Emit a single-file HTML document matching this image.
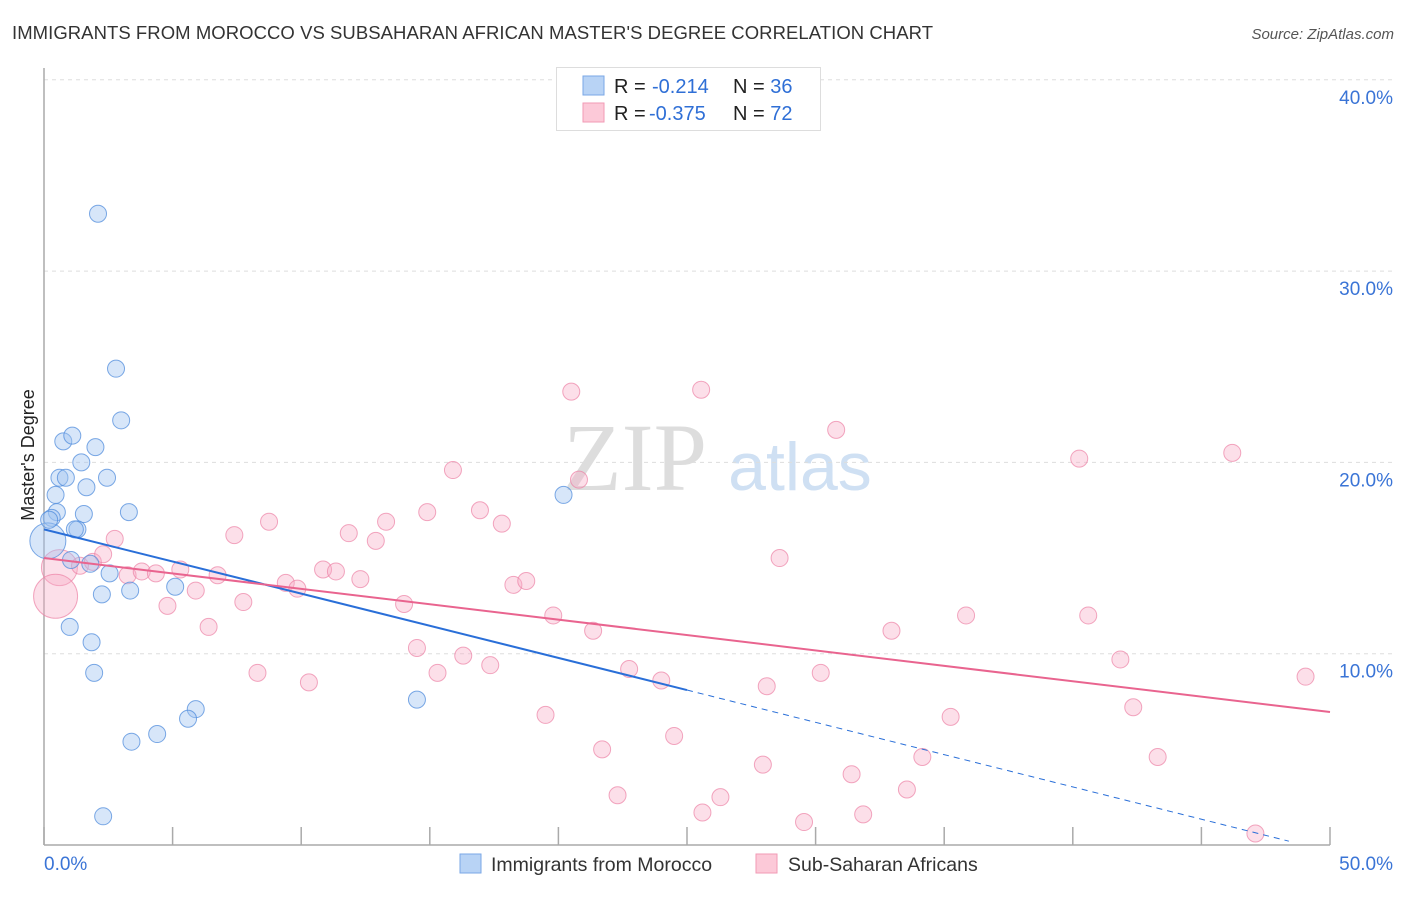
<!DOCTYPE html>
<html><head><meta charset="utf-8"><style>
body{margin:0;background:#fff;width:1406px;height:892px;overflow:hidden;font-family:"Liberation Sans",sans-serif}
svg text{font-family:"Liberation Sans",sans-serif}
</style></head><body>
<svg id="c" width="1406" height="892" xmlns="http://www.w3.org/2000/svg">
<text x="12" y="39" font-size="18.5" fill="#333" textLength="921">IMMIGRANTS FROM MOROCCO VS SUBSAHARAN AFRICAN MASTER'S DEGREE CORRELATION CHART</text>
<text x="1394" y="39" font-size="15" fill="#555" font-style="italic" text-anchor="end">Source: ZipAtlas.com</text>
<text x="635" y="490" font-size="96" fill="#ddd" text-anchor="middle" font-family="Liberation Serif" style="font-family:'Liberation Serif',serif">ZIP</text>
<text x="800" y="490" font-size="68" fill="#cfe0f3" text-anchor="middle">atlas</text>
<text transform="translate(34,455) rotate(-90)" font-size="18" fill="#222" text-anchor="middle">Master's Degree</text>
<g id="grid"></g><g id="pts"></g><g id="lines"></g>
<g>
<rect x="556.5" y="67.5" width="264" height="63" fill="#fff" stroke="#ddd"/>
<rect x="583" y="76" width="21" height="19" fill="#b8d3f5" stroke="#7aa7e6"/>
<rect x="583" y="103" width="21" height="19" fill="#fcc9d8" stroke="#f29ab5"/>
<text x="614" y="93" font-size="20" fill="#222">R = <tspan fill="#2f6fd6" x="652">-0.214</tspan><tspan x="733" fill="#222">N = </tspan><tspan fill="#2f6fd6">36</tspan></text>
<text x="614" y="120" font-size="20" fill="#222">R = <tspan fill="#2f6fd6" x="649">-0.375</tspan><tspan x="733" fill="#222">N = </tspan><tspan fill="#2f6fd6">72</tspan></text>
</g>
<g>
<rect x="460" y="854" width="21" height="19" fill="#b8d3f5" stroke="#7aa7e6"/>
<text x="491" y="871" font-size="19.5" fill="#333">Immigrants from Morocco</text>
<rect x="756" y="854" width="21" height="19" fill="#fcc9d8" stroke="#f29ab5"/>
<text x="788" y="871" font-size="19.5" fill="#333">Sub-Saharan Africans</text>
</g>
</svg>
<script>
const yTicks=[10,20,30,40];
const xTickLabels=["0.0%","50.0%"];
const blueX=[2.1,2.8,3.0,0.75,1.1,2.0,1.45,0.6,0.85,2.45,1.65,0.45,3.3,1.55,0.5,0.3,1.3,1.2,0.15,1.05,1.8,2.55,2.25,3.35,5.1,1.0,1.85,1.95,5.9,5.6,14.5,4.4,3.4,2.3,20.2,0.2];
const blueY=[33.0,24.9,22.2,21.1,21.4,20.8,20.0,19.2,19.2,19.2,18.7,18.3,17.4,17.3,17.4,17.1,16.5,16.5,15.9,14.9,14.7,14.2,13.1,13.3,13.5,11.4,10.6,9.0,7.1,6.6,7.6,5.8,5.4,1.5,18.3,17.0];
const blueR=[8.5,8.5,8.5,8.5,8.5,8.5,8.5,8.5,8.5,8.5,8.5,8.5,8.5,8.5,8.5,8.5,8.5,8.5,18,8.5,8.5,8.5,8.5,8.5,8.5,8.5,8.5,8.5,8.5,8.5,8.5,8.5,8.5,8.5,8.5,8.5];
const pinkX=[0.6,0.45,1.4,1.9,2.3,2.75,3.25,3.8,4.35,4.8,5.3,5.9,6.4,6.75,7.4,7.75,8.3,8.75,9.4,9.85,10.3,10.85,11.35,11.85,12.3,12.9,13.3,14.0,14.5,14.9,15.3,15.9,16.3,16.95,17.35,17.8,18.25,18.75,19.5,19.8,20.5,20.8,21.35,21.7,22.3,22.75,24.0,24.5,25.55,25.6,26.3,27.95,28.1,28.6,29.55,30.2,30.8,31.4,31.85,32.95,33.55,34.15,35.25,35.85,40.25,40.6,41.85,42.35,43.3,46.2,47.1,49.05];
const pinkY=[14.5,13.0,14.6,14.8,15.2,16.0,14.1,14.3,14.2,12.5,14.4,13.3,11.4,14.1,16.2,12.7,9.0,16.9,13.7,13.4,8.5,14.4,14.3,16.3,13.9,15.9,16.9,12.6,10.3,17.4,9.0,19.6,9.9,17.5,9.4,16.8,13.6,13.8,6.8,12.0,23.7,19.1,11.2,5.0,2.6,9.2,8.6,5.7,23.8,1.7,2.5,4.2,8.3,15.0,1.2,9.0,21.7,3.7,1.6,11.2,2.9,4.6,6.7,12.0,20.2,12.0,9.7,7.2,4.6,20.5,0.6,8.8];
const pinkR=[18,22];
const X=v=>44+v*25.72, Y=v=>845-v*19.13;
const ns='http://www.w3.org/2000/svg';
function mk(t,a,p){const e=document.createElementNS(ns,t);for(const k in a)e.setAttribute(k,a[k]);p.appendChild(e);return e;}
const grid=document.getElementById('grid'),pts=document.getElementById('pts'),lines=document.getElementById('lines');
yTicks.forEach(t=>{
 const l=mk('line',{x1:44,x2:1393,y1:Y(t),y2:Y(t),stroke:'#ddd','stroke-dasharray':'4 4'},grid);
 
 
 const tx=mk('text',{x:1393,y:Y(t)+24,'font-size':19,fill:'#3a74d6','text-anchor':'end'},grid);
 tx.textContent=t.toFixed(1)+'%';
 
 
});
const ax=mk('line',{x1:44,x2:44,y1:68,y2:845,stroke:'#aaa','stroke-width':1.5},grid);


const bx=mk('line',{x1:44,x2:1330,y1:845,y2:845,stroke:'#aaa','stroke-width':1.5},grid);


for(let i=0;i<=10;i++){const tk=mk('line',{x1:X(i*5),x2:X(i*5),y1:827,y2:845,stroke:'#aaa','stroke-width':1.5},grid);
 
 }
[[0,44,'start'],[50,1393,'end']].forEach((d,i)=>{const tx=mk('text',{x:d[1],y:870,'font-size':19,fill:'#3a74d6','text-anchor':d[2]},grid);tx.textContent=xTickLabels[i];
 
 });
pinkX.forEach((x,i)=>{const c=mk('circle',{cx:X(x),cy:Y(pinkY[i]),r:pinkR[i]||8.5,fill:'rgba(248,172,196,0.38)',stroke:'rgba(236,130,165,0.7)','stroke-width':1},pts);
 
 });
blueX.forEach((x,i)=>{const c=mk('circle',{cx:X(x),cy:Y(blueY[i]),r:blueR[i],fill:'rgba(160,196,240,0.42)',stroke:'rgba(80,140,220,0.75)','stroke-width':1},pts);
 
 });
const bl=mk('line',{x1:X(0),y1:Y(16.5),x2:X(25),y2:Y(8.1),stroke:'#2a6fd8','stroke-width':2},lines);


const bd=mk('line',{x1:X(25),y1:Y(8.1),x2:X(48.4),y2:Y(0.2),stroke:'#2a6fd8','stroke-width':1,'stroke-dasharray':'6 5'},lines);


const pl=mk('line',{x1:X(0),y1:Y(15.0),x2:X(50),y2:Y(6.95),stroke:'#e9648f','stroke-width':2},lines);


</script>
</body></html>
